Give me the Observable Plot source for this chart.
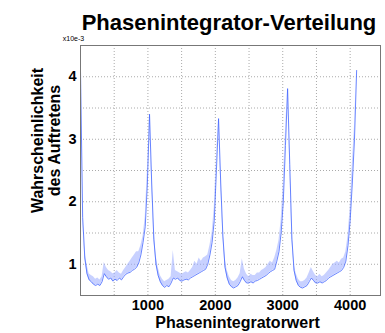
<!DOCTYPE html>
<html><head><meta charset="utf-8">
<script src="https://cdn.jsdelivr.net/npm/d3@7"></script>
<script src="https://cdn.jsdelivr.net/npm/@observablehq/plot@0.6"></script>
<style>body{margin:0;background:#fff}</style>
</head><body><div id="chart"></div>
<script>
const step = 32;
const core = [
4.1,1.75,1.1,0.85,0.75,0.72,0.68,0.66,0.68,0.66,0.72,0.85,0.8,0.76,0.78,0.73,0.76,0.74,0.78,0.75,0.8,0.84,0.86,0.87,0.9,0.92,0.95,1.02,1.15,1.35,1.6,2.3,3.4,
2.3,1.4,1.0,0.82,0.72,0.66,0.63,0.66,0.64,0.7,0.78,0.76,0.78,0.74,0.73,0.75,0.76,0.75,0.78,0.8,0.82,0.84,0.86,0.88,0.9,0.92,1.0,1.15,1.35,1.7,2.5,3.33,
2.3,1.45,0.95,0.78,0.68,0.64,0.62,0.64,0.66,0.72,0.8,0.74,0.7,0.7,0.72,0.7,0.73,0.74,0.76,0.78,0.8,0.82,0.85,0.88,0.9,0.92,1.05,1.2,1.5,2.0,2.9,3.81,
2.6,1.4,0.9,0.74,0.66,0.63,0.62,0.64,0.66,0.72,0.78,0.74,0.7,0.7,0.72,0.7,0.72,0.74,0.78,0.8,0.82,0.84,0.86,0.88,0.9,0.95,1.05,1.3,1.7,2.3,3.0,4.1
];
const upper = [
4.1,1.9,1.2,1.0,0.85,0.82,0.8,0.76,0.78,0.75,0.8,1.03,0.95,0.9,0.88,0.85,0.86,0.9,0.86,0.84,0.9,0.95,1.0,1.05,1.1,1.15,1.2,1.2,1.3,1.45,1.75,2.5,3.4,
2.5,1.6,1.15,0.95,0.82,0.76,0.72,0.74,0.76,0.8,1.22,0.9,0.88,0.86,0.84,0.86,0.88,0.86,0.9,0.95,1.05,1.0,1.1,1.05,1.1,1.12,1.15,1.3,1.5,1.9,2.7,3.33,
2.5,1.6,1.1,0.9,0.8,0.74,0.72,0.74,0.78,0.85,1.09,0.92,0.84,0.8,0.84,0.82,0.82,0.86,0.86,0.9,0.92,0.95,1.0,1.05,1.02,1.1,1.22,1.38,1.7,2.3,3.1,3.81,
2.8,1.6,1.0,0.85,0.76,0.72,0.72,0.74,0.78,0.86,0.95,0.88,0.82,0.8,0.84,0.8,0.82,0.86,0.9,0.95,1.0,1.02,1.05,1.02,1.08,1.1,1.2,1.45,1.9,2.6,3.2,4.1
];
const xTicks = [1000, 2000, 3000, 4000];
const yTicks = [1, 2, 3, 4];
const xGrid = [500, 1000, 1500, 2000, 2500, 3000, 3500, 4000];
const yGrid = [1, 1.5, 2, 2.5, 3, 3.5, 4];
const title = "Phasenintegrator-Verteilung";
const xLabel = "Phasenintegratorwert";
const yLabel = "Wahrscheinlichkeit\ndes Auftretens";
const yUnit = "x10e-3";

const data = core.map((c, i) => ({x: i * step, core: c, hi: upper[i]}));

const chart = Plot.plot({
  width: 385, height: 333,
  marginLeft: 80, marginRight: 5, marginTop: 45, marginBottom: 38,
  style: {fontFamily: "'Liberation Sans', Arial, sans-serif", fontWeight: "bold", fontSize: "14.5px", color: "#000", background: "#fff"},
  x: {domain: [0, 4450], ticks: xTicks, tickSize: 0, tickPadding: 4, label: null, tickFormat: d => String(d)},
  y: {domain: [0.5, 4.5], ticks: yTicks, tickSize: 0, tickPadding: 4, label: null, tickFormat: d => String(d)},
  marks: [
    Plot.ruleX(xGrid, {stroke: "#aaa", strokeDasharray: "1,2"}),
    Plot.ruleY(yGrid, {stroke: "#aaa", strokeDasharray: "1,2"}),
    Plot.areaY(data, {x: "x", y1: "core", y2: "hi", fill: "#9aacff", fillOpacity: 0.55}),
    Plot.line(data, {x: "x", y: "core", stroke: "#4466ff", strokeWidth: 1, strokeOpacity: 0.8}),
    Plot.frame({stroke: "#777"}),
    Plot.text([title], {text: d => d, frameAnchor: "top", lineAnchor: "middle", textAnchor: "middle", dx: -1.5, dy: -23, fontSize: 22, fontWeight: "bold"}),
    Plot.text([xLabel], {text: d => d, frameAnchor: "bottom", lineAnchor: "middle", textAnchor: "middle", dx: 7, dy: 27.5, fontSize: 16, fontWeight: "bold"}),
    Plot.text([yLabel], {text: d => d, frameAnchor: "left", lineAnchor: "middle", textAnchor: "middle", dx: -34, dy: -30, rotate: -90, fontSize: 16, lineHeight: 1.05, fontWeight: "bold"}),
    Plot.text([yUnit], {text: d => d, frameAnchor: "top-left", lineAnchor: "middle", textAnchor: "middle", dx: -7, dy: -7, fontSize: 7, fontWeight: "normal"})
  ]
});
document.getElementById("chart").appendChild(chart);
</script>
</body></html>
